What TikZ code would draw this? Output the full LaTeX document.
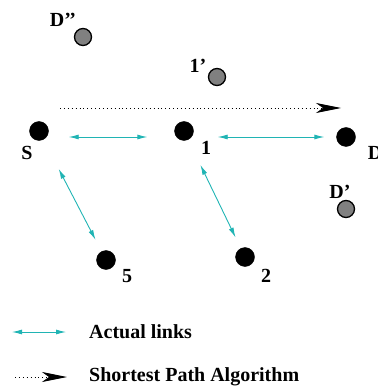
\documentclass[tikz,border=0pt]{standalone}
\usepackage{fontspec}
\setmainfont{Liberation Serif}
\usetikzlibrary{arrows.meta,positioning}
\definecolor{linkcol}{RGB}{32,180,180}
\begin{document}
\begin{tikzpicture}[x=1pt,y=-1pt,font=\fontsize{20}{22}\selectfont\bfseries]
		\tikzstyle{host}=[draw,shape=circle,fill=black,inner sep=0pt,minimum size=19pt]
		\tikzstyle{ghost}=[draw,shape=circle,fill=black!50,line width=1.3pt,inner sep=0pt,minimum size=17pt]
		\tikzstyle{link}=[linkcol,line width=0.9pt,{Latex[length=10pt,width=5pt]}-{Latex[length=10pt,width=5pt]}]
		\tikzstyle{spa}=[black,line width=0.9pt,dash pattern=on 0.9pt off 3pt,-{Stealth[length=25pt,width=10pt,inset=7pt]}]
		\tikzstyle{lbl}=[inner sep=0pt]
		\useasboundingbox (0,0) rectangle (377,387);

		% nodes of the network
		\node[host](S) at (39,131){};
		\node[host](n1) at (184,131){};
		\node[host](D) at (346,137){};
		\node[host](n5) at (106,260){};
		\node[host](n2) at (245,257){};

		\node[ghost](Dpp) at (83,37){};
		\node[ghost](n1p) at (217,77){};
		\node[ghost](Dp) at (346,209){};

		\node[lbl](lS) at (27,153){S};
		\node[lbl](l1) at (206,148){1};
		\node[lbl](lD) at (375,153){D};
		\node[lbl](l5) at (127,276){5};
		\node[lbl](l2) at (266,276){2};
		\node[lbl](lDpp) at (63,20){D’’};
		\node[lbl](l1p) at (198,66){1’};
		\node[lbl](lDp) at (340,192){D’};

		% actual links
		\draw[link,shorten <=20pt,shorten >=27pt] ([yshift=-6pt]S.east) -- ([yshift=-6pt]n1.west);
		\draw[link,shorten <=24pt,shorten >=12pt] ([yshift=-6pt]n1.east) -- (D.west);
		\draw[link,shorten <=33pt,shorten >=13pt] (S) -- (n5);
		\draw[link,shorten <=28pt,shorten >=12pt] (n1) -- (n2);

		% shortest path
		\coordinate (sp0) at (60,108);
		\coordinate (sp1) at (341,108);
		\draw[spa] (sp0) -- (sp1);

		% legend
		\coordinate (la0) at (12,332);
		\coordinate (la1) at (66,332);
		\draw[link] (la0) -- (la1);
		\node[lbl,anchor=west](lla) at (89,332){Actual links};

		\coordinate (lb0) at (15,377);
		\coordinate (lb1) at (67,377);
		\draw[spa] (lb0) -- (lb1);
		\node[lbl,anchor=west](llb) at (89,377){Shortest Path Algorithm};
	\end{tikzpicture}
\end{document}
